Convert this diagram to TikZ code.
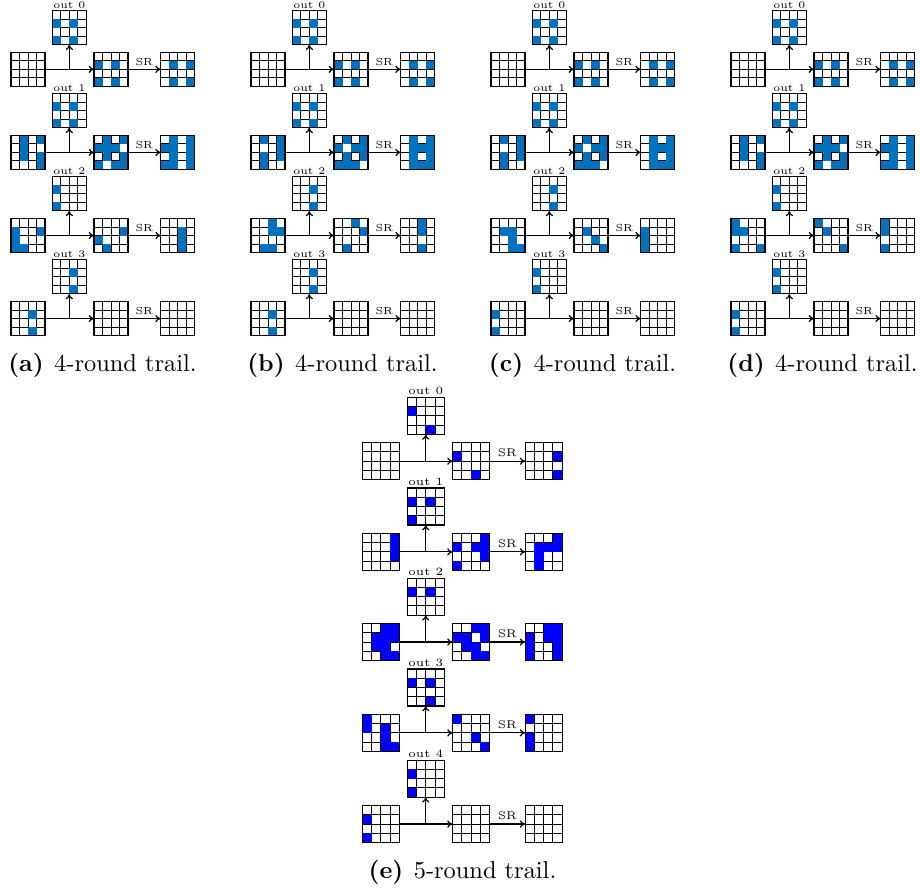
\documentclass[tikz,border=0pt]{standalone}
\usetikzlibrary{calc,arrows.meta}
\definecolor{tblue}{RGB}{0,114,189}
\definecolor{pblue}{RGB}{0,0,255}
\colorlet{cellcol}{tblue}
\def\cc{8.5}
\def\sc{1}
\def\labsize{4.2}
\tikzset{
  gridbox/.style={draw=black, line width=0.45pt, inner sep=0pt, outer sep=0pt,
    minimum size={4*\cc*0.41pt}},
  gridline/.style={draw=black, line width=0.4pt},
  cellfill/.style={fill=cellcol},
  conn/.style={-{To[length=2.2pt,width=3pt]}, line width=0.5pt},
  lab/.style={font=\fontsize{\labsize}{\labsize}\selectfont, inner sep=0pt, anchor=center},
  captext/.style={font=\fontsize{10}{12}\selectfont, anchor=base, inner sep=0pt},
}
% name, x, y (top-left, px), cells i/j
\newcommand\mygrid[4]{%
  \foreach \k in {1,2,3}{%
    \draw[gridline] ({#2+\k*\cc},{#3}) -- ({#2+\k*\cc},{#3+4*\cc});
    \draw[gridline] ({#2},{#3+\k*\cc}) -- ({#2+4*\cc},{#3+\k*\cc});
  }%
  \if\relax\detokenize{#4}\relax\else
    \foreach \i/\j in {#4}{\fill[cellfill] ({#2+\j*\cc},{#3+\i*\cc}) rectangle ++(\cc,\cc);}%
  \fi
  \node[gridbox] (#1) at ({#2+2*\cc},{#3+2*\cc}) {};
}
% prefix, X0, Y0, round, left, out, mid, right
\newcommand\trow[8]{%
  \mygrid{#1L}{#2}{#3}{#5}
  \mygrid{#1O}{#2+41.3*\sc}{#3-41.7*\sc}{#6}
  \mygrid{#1M}{#2+83*\sc}{#3}{#7}
  \mygrid{#1R}{#2+149.7*\sc}{#3}{#8}
  \node[lab] (#1t) at ($(#1O.north)+(0,-5.6*\sc)$) {out #4};
  \coordinate (#1J) at (#1O.south |- #1L.east);
  \draw[conn] (#1L.east) -- (#1M.west);
  \draw[conn] (#1J) -- (#1O.south);
  \draw[conn] (#1M.east) -- node[lab, midway, yshift={7.7*\sc*0.41pt}] (#1s) {SR} (#1R.west);
}
\begin{document}
\begin{tikzpicture}[x=0.41pt, y=-0.41pt]
\useasboundingbox (0,0) rectangle (920,893);
% ---------- panels a-d ----------
\foreach \p/\X in {a/11, b/251, c/491, d/731}{
  \trow{\p0}{\X}{52.3}{0}{}{1/0,1/2,3/0,3/2}{1/0,1/2,3/0,3/2}{1/1,1/3,3/1,3/3}
}
% (a)
\trow{a1}{11}{135.4}{1}{0/1,1/1,2/1,0/3,2/3,3/3}{1/0,1/2,3/0,3/2}{0/1,0/3,1/0,1/1,1/2,2/1,2/3,3/0,3/2,3/3}{0/1,0/3,1/0,1/1,1/3,2/1,2/3,3/0,3/1,3/3}
\trow{a2}{11}{218.5}{2}{1/0,2/0,3/0,3/1,1/3}{1/0,3/0}{1/3,2/0,3/1}{1/2,2/2,3/2}
\trow{a3}{11}{301.6}{3}{1/2,3/2}{1/2,3/2}{}{}
% (b)
\trow{b1}{251}{135.4}{1}{0/1,0/3,1/3,2/3,2/1,3/1}{1/0,1/2,3/0,3/2}{0/1,0/3,1/0,1/2,1/3,2/1,2/3,3/0,3/1,3/2}{0/1,0/3,1/1,1/2,1/3,2/1,2/3,3/1,3/2,3/3}
\trow{b2}{251}{218.5}{2}{0/2,1/2,1/3,3/1,3/2}{1/2,3/2}{0/2,1/3,3/1}{0/2,1/2,3/2}
\trow{b3}{251}{301.6}{3}{1/2,3/2}{1/2,3/2}{}{}
% (c)
\trow{c1}{491}{135.4}{1}{0/1,0/3,1/3,2/3,2/1,3/1}{1/0,1/2,3/0,3/2}{0/1,0/3,1/0,1/2,1/3,2/1,2/3,3/0,3/1,3/2}{0/1,0/3,1/1,1/2,1/3,2/1,2/3,3/1,3/2,3/3}
\trow{c2}{491}{218.5}{2}{1/1,1/2,2/2,3/2,3/3}{1/2,3/2}{1/1,2/2,3/3}{1/0,2/0,3/0}
\trow{c3}{491}{301.6}{3}{1/0,3/0}{1/0,3/0}{}{}
% (d)
\trow{d1}{731}{135.4}{1}{0/1,1/1,2/1,0/3,2/3,3/3}{1/0,1/2,3/0,3/2}{0/1,0/3,1/0,1/1,1/2,2/1,2/3,3/0,3/2,3/3}{0/1,0/3,1/0,1/1,1/3,2/1,2/3,3/0,3/1,3/3}
\trow{d2}{731}{218.5}{2}{0/0,1/0,1/1,3/0,3/3}{1/0,3/0}{0/0,1/1,3/3}{0/0,1/0,3/0}
\trow{d3}{731}{301.6}{3}{1/0,3/0}{1/0,3/0}{}{}
% captions a-d
\node[captext] (capa) at (102.5,371.7) {\textbf{(a)}\hskip4.3pt 4-round trail.};
\node[captext] (capb) at (342.5,371.7) {\textbf{(b)}\hskip4.3pt 4-round trail.};
\node[captext] (capc) at (582.5,371.7) {\textbf{(c)}\hskip4.3pt 4-round trail.};
\node[captext] (capd) at (822.5,371.7) {\textbf{(d)}\hskip4.3pt 4-round trail.};
% ---------- panel e ----------
\colorlet{cellcol}{pblue}
\def\cc{9.25}
\def\sc{1.088}
\def\labsize{4.57}
\trow{e0}{362.3}{442.7}{0}{}{1/0,3/2}{1/0,3/2}{1/3,3/3}
\trow{e1}{362.3}{533.3}{1}{0/3,1/3,2/3}{1/0,1/2,3/0}{0/3,1/0,1/2,1/3,2/3,3/0}{0/3,1/1,1/2,1/3,2/1,3/1}
\trow{e2}{362.3}{623.5}{2}{0/2,0/3,1/1,1/2,1/3,2/1,2/2,3/2,3/3}{1/0,1/2}{0/2,0/3,1/0,1/1,1/3,2/1,2/2,3/2,3/3}{0/2,0/3,1/0,1/2,1/3,2/0,2/3,3/0,3/3}
\trow{e3}{362.3}{714.3}{3}{0/0,1/0,1/2,2/2,3/2,3/3}{1/0,1/2,3/2}{0/0,2/2,3/3}{0/0,2/0,3/0}
\trow{e4}{362.3}{805.5}{4}{1/0,3/0}{1/0,3/0}{}{}
\node[captext] (cape) at (462.5,878) {\textbf{(e)}\hskip4.3pt 5-round trail.};
\end{tikzpicture}
\end{document}
